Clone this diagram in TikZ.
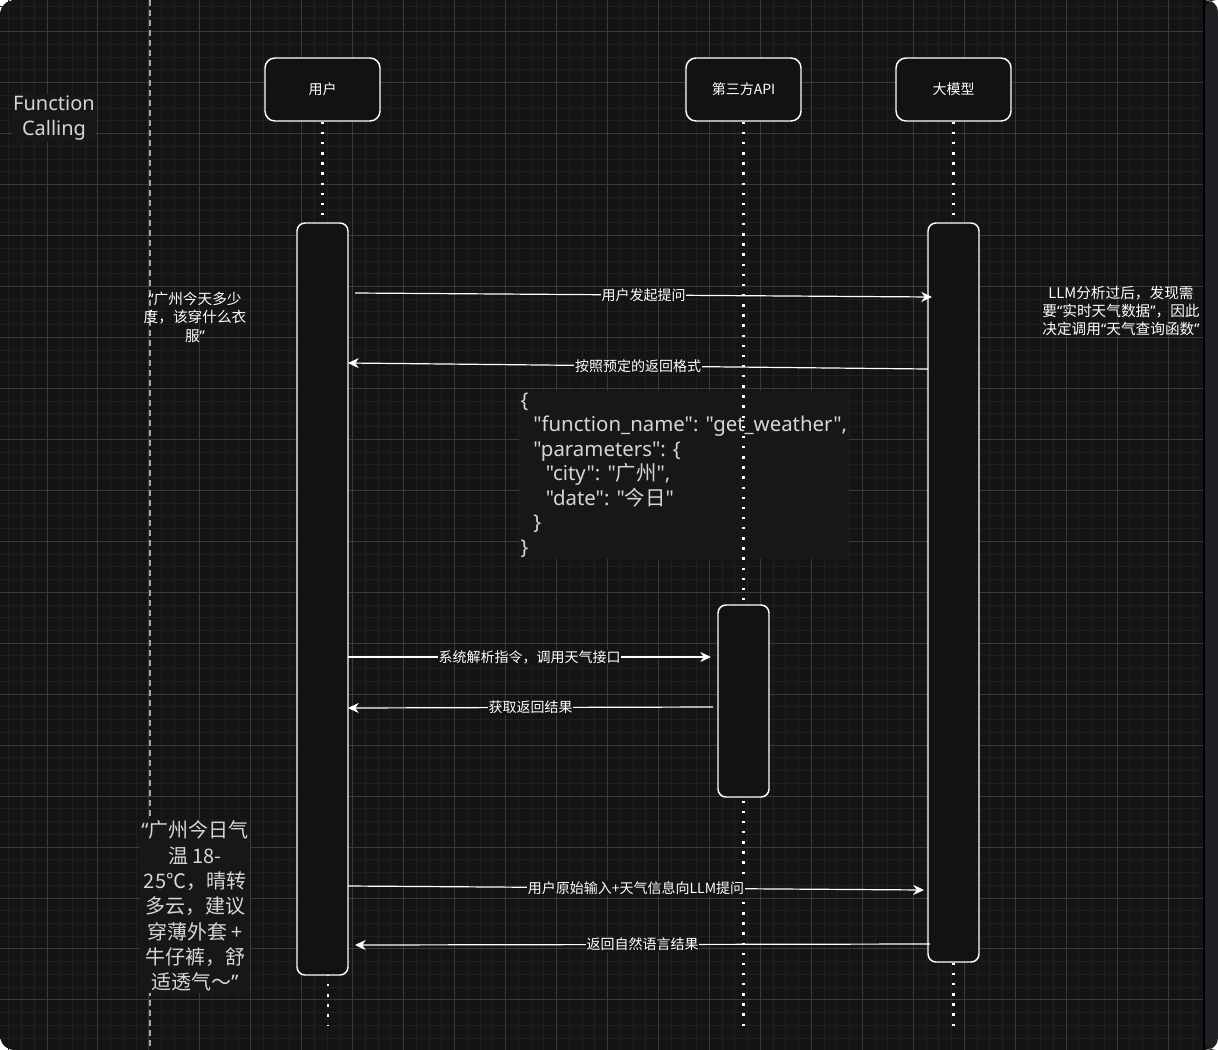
\documentclass[tikz,border=0pt]{standalone}
\usepackage{fontspec}
\setmainfont{Noto Sans CJK SC}
\newfontfamily\latinfont{Noto Sans}
\newfontfamily\cjkfont{Noto Sans CJK SC}
\newcommand{\qopen}{{\latinfont “}}
\newcommand{\qclose}{{\latinfont ”}}
\usetikzlibrary{arrows.meta,positioning}
\definecolor{bgdark}{HTML}{141414}
\definecolor{boxfill}{HTML}{121212}
\definecolor{gridminor}{HTML}{1F1F1F}
\definecolor{gridmajor}{HTML}{3A3A3A}
\definecolor{softgray}{HTML}{D6D6D6}
\definecolor{notebg}{HTML}{171717}
\definecolor{stripgray}{HTML}{1F2023}

\begin{document}
\begin{tikzpicture}[x=0.75pt,y=-0.75pt,
  actor/.style={draw=white,line width=1.1pt,fill=boxfill,rounded corners=7.5pt,minimum width=86.25pt,minimum height=47.25pt,text=white,font=\fontsize{10.5}{12}\selectfont},
  bar/.style={draw=white,line width=1.1pt,fill=boxfill,rounded corners=6pt,minimum width=38.25pt,inner sep=0pt},
  life/.style={white,line width=1.8pt,dash pattern=on 1.8pt off 5.8pt},
  msg/.style={white,line width=0.9pt,-{Stealth[length=8pt,width=7.5pt,inset=2.5pt]}},
  lbl/.style={fill=bgdark,text=white,inner sep=0.5pt,font=\fontsize{10.5}{12}\selectfont},
  note/.style={text=white,align=center,font=\fontsize{11}{13.8}\selectfont},
  memo/.style={text=softgray,fill=notebg,inner sep=1pt,font=\fontsize{15}{19}\selectfont}]
\useasboundingbox (0,0) rectangle (1218,1050);
% canvas
\fill[white] (0,0) rectangle (1218,1050);
\fill[bgdark,rounded corners=11pt] (0,0) rectangle (1218,1050);
\begin{scope}[shift={(47,31.7)}]
\draw[gridminor,line width=0.75pt,step=9.555pt] (-47,-31.7) grid (1157,1018.3);
\draw[gridmajor,line width=0.75pt,step=38.22pt] (-47,-31.7) grid (1157,1018.3);
\end{scope}
\fill[stripgray,rounded corners=9pt] (1204,0) rectangle (1218,1050);
\draw[black,line width=1pt] (1204,0) -- (1204,1050);
\draw[gray!70,line width=0.9pt,dash pattern=on 4.5pt off 3pt] (150,0) -- (150,1050);

% returned format (lifeline runs over it)
\node[memo,align=left,anchor=north west,font=\latinfont\fontsize{15.3}{18.4}\selectfont] (json) at (519,391)
  {\{\\\hspace*{9.5pt}"function\_name": "get\_weather",\\\hspace*{9.5pt}"parameters": \{\\\hspace*{19pt}"city": "{\cjkfont 广州}",\\\hspace*{19pt}"date": "{\cjkfont 今日}"\\\hspace*{9.5pt}\}\\\}};

% participants
\node[actor] (user) at (322.5,89.5) {用户};
\node[actor] (api) at (743.5,89.5) {第三方API};
\node[actor] (llm) at (953.5,89.5) {大模型};
\coordinate (ubar) at (322.5,599);
\coordinate (abar) at (743.5,701);
\coordinate (lbar) at (953.5,592.5);
\coordinate (uend) at (328,1026);
\coordinate (aend) at (743.5,1026);
\coordinate (lend) at (953.5,1026);
\draw[life] (user.south) -- (ubar);
\draw[life] (api.south) -- (aend);
\draw[life] (llm.south) -- (lend);
\draw[life] (uend |- ubar) -- (uend);
\node[bar,minimum height=564pt] (ubox) at (ubar) {};
\node[bar,minimum height=144pt] (abox) at (abar) {};
\node[bar,minimum height=554.25pt] (lbox) at (lbar) {};

% messages
\coordinate (m1a) at (355,293); \coordinate (m1b) at (932,297);
\coordinate (m2a) at (928,369); \coordinate (m2b) at (348,363);
\coordinate (m3a) at (348,657); \coordinate (m3b) at (711,657);
\coordinate (m4a) at (713,707); \coordinate (m4b) at (348,708);
\coordinate (m5a) at (348,886); \coordinate (m5b) at (924,890);
\coordinate (m6a) at (930,944); \coordinate (m6b) at (355,945);
\draw[msg] (m1a) -- node[lbl]{用户发起提问} (m1b);
\draw[msg] (m2a) -- node[lbl]{按照预定的返回格式} (m2b);
\draw[msg] (m3a) -- node[lbl]{系统解析指令，调用天气接口} (m3b);
\draw[msg] (m4a) -- node[lbl]{获取返回结果} (m4b);
\draw[msg] (m5a) -- node[lbl]{用户原始输入+天气信息向LLM提问} (m5b);
\draw[msg] (m6a) -- node[lbl]{返回自然语言结果} (m6b);

% notes
\node[memo,align=center,font=\latinfont\fontsize{15}{18.8}\selectfont] (title) at (54,118) {Function\\Calling};
\node[note] (ask) at (195,317) {\qopen 广州今天多少\\度，该穿什么衣\\服\qclose};
\node[note] (think) at (1121,311) {LLM分析过后，发现需\\要\qopen 实时天气数据\qclose ，因此\\决定调用\qopen 天气查询函数\qclose};
\node[memo,align=center] (reply) at (195,906) {\qopen 广州今日气\\温 18-\\25℃，晴转\\多云，建议\\穿薄外套 +\\牛仔裤，舒\\适透气～\qclose};
\end{tikzpicture}
\end{document}
